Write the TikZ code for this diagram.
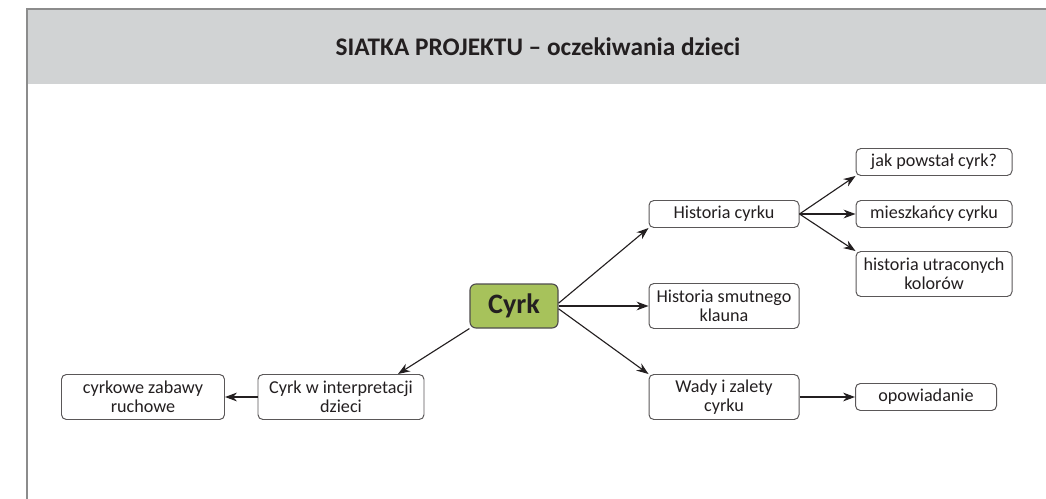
\documentclass[tikz,border=0pt]{standalone}
\usepackage{fontspec}
\setmainfont{Carlito}
\usepackage{tikz}
\usetikzlibrary{shapes, arrows.meta}
\definecolor{headgray}{HTML}{D1D3D4}
\definecolor{framegray}{HTML}{8C8C8C}
\definecolor{cyrkgreen}{HTML}{A7C25B}
\definecolor{linegray}{HTML}{231F20}
\tikzstyle{topic} = [rectangle, rounded corners=1.5mm, minimum width=2.2cm, minimum height=1.1cm, text centered, draw=linegray!80, line width=0.8pt, fill=cyrkgreen, font=\fontsize{20}{22}\selectfont\bfseries, text=linegray]
\tikzstyle{leaf} = [rectangle, rounded corners=1.2mm, minimum width=3.75cm, minimum height=0.675cm, inner sep=3pt, text centered, draw=linegray!75, line width=0.7pt, fill=white, font=\fontsize{12.9}{13.5}\selectfont, text=linegray]
\tikzstyle{leaftwo} = [leaf, minimum height=1.125cm]
\tikzstyle{arrow} = [line width=0.8pt, draw=linegray, -{Stealth[length=3mm, width=2.2mm]}]

\begin{document}
\begin{tikzpicture}[node distance=5.25cm, align=center]
    \useasboundingbox (0,0) rectangle (26.15,-12.475);
    \fill[headgray] (0.675,-0.225) rectangle (26.2,-2.1);
    \draw[framegray, line width=1.2pt] (26.2,-0.225) -- (0.675,-0.225) -- (0.675,-12.6);
    \node (title) at (13.45,-1.175) [font=\fontsize{18}{20}\selectfont\bfseries, text=linegray] {SIATKA PROJEKTU -- oczekiwania dzieci};

    \node (cyrk) at (12.85,-7.65) [topic] {Cyrk};
    \node (hist) [leaf, right of=cyrk, yshift=2.3cm] {Historia cyrku};
    \node (klaun) [leaftwo, right of=cyrk] {Historia smutnego\\klauna};
    \node (wady) [leaftwo, right of=cyrk, yshift=-2.275cm] {Wady i zalety\\cyrku};
    \node (jak) [leaf, minimum width=3.9cm, right of=hist, yshift=1.3cm] {jak powstał cyrk?};
    \node (miesz) [leaf, minimum width=3.9cm, right of=hist] {mieszkańcy cyrku};
    \node (kolory) [leaftwo, minimum width=3.9cm, right of=hist, yshift=-1.5cm] {historia utraconych\\kolorów};
    \node (opow) [leaf, minimum width=3.525cm, right of=wady, xshift=-0.2cm] {opowiadanie};
    \node (interp) [leaftwo, minimum width=4.15cm, left of=cyrk, xshift=0.925cm, yshift=-2.275cm] {Cyrk w interpretacji\\dzieci};
    \node (zabawy) [leaftwo, minimum width=4.075cm, left of=interp, xshift=0.3cm] {cyrkowe zabawy\\ruchowe};

    \draw [arrow] ([yshift=2pt]cyrk.east) -- (hist.south west);
    \draw [arrow] (cyrk.east) -- (klaun.west);
    \draw [arrow] ([yshift=-2pt]cyrk.east) -- (wady.north west);
    \draw [arrow] (cyrk.south west) -- ([xshift=1.425cm]interp.north);
    \draw [arrow] (interp.west) -- (zabawy.east);
    \draw [arrow] (wady.east) -- (opow.west);
    \draw [arrow] (hist.east) -- (jak.south west);
    \draw [arrow] (hist.east) -- (miesz.west);
    \draw [arrow] (hist.east) -- (kolory.north west);

    \end{tikzpicture}
\end{document}
